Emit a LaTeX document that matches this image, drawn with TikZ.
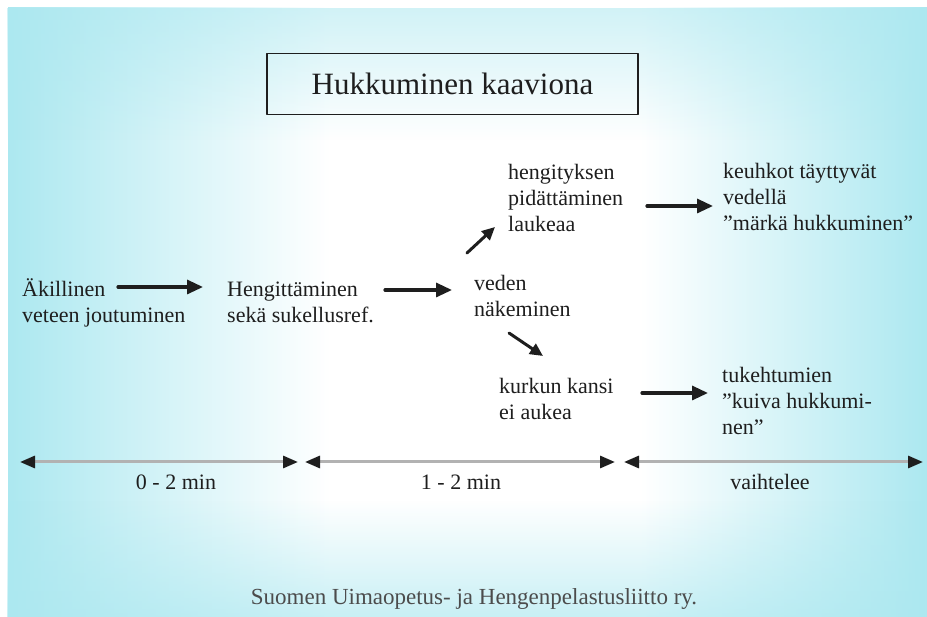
\documentclass[tikz,border=0pt]{standalone}
\usepackage{fontspec}
\setmainfont{Liberation Serif}
\usetikzlibrary{arrows.meta,fadings}

\definecolor{sea}{RGB}{172,232,240}
\definecolor{ink}{RGB}{30,30,30}
\tikzfading[name=seatop, top color=transparent!45, bottom color=transparent!100]
\tikzfading[name=seabot, top color=transparent!100, bottom color=transparent!35]

\begin{document}
\begin{tikzpicture}[x=1pt, y=-1pt, line cap=round, line join=round,
  txt/.style={anchor=base west, align=left, inner sep=0pt, text=ink,
    font=\fontsize{22}{26}\selectfont},
  flow/.style={-{Triangle[length=16pt,width=14pt]}, line width=3.2pt, ink},
  branch/.style={-{Triangle[length=13pt,width=12pt]}, line width=3pt, ink},
  span/.style={{Triangle[length=15pt,width=12pt,color=ink]}-{Triangle[length=15pt,width=12pt,color=ink]},
    line width=3pt, gray!60}]

  % background (scanned sheet)
  \useasboundingbox (0,0) rectangle (927,617);
  \fill[white] (0,0) rectangle (927,617);
  \shade[left color=sea, right color=white] (8,8) rectangle (330,617);
  \shade[left color=white, right color=sea] (640,8) rectangle (927,617);
  \fill[sea, path fading=seatop] (8,8) rectangle (927,140);
  \fill[sea, path fading=seabot] (8,500) rectangle (927,617);

  % title
  \node[draw=ink, line width=1.2pt, minimum width=371pt, minimum height=61pt,
    font=\fontsize{31}{36}\selectfont, text=ink] (title) at (452.5,84) {Hukkuminen kaaviona};

  % stages (base = last line)
  \node[txt] (akil)   at (22,323)  {Äkillinen\\veteen joutuminen};
  \node[txt] (heng)   at (227,323) {Hengittäminen\\sekä sukellusref.};
  \node[txt] (veden)  at (474,317) {veden\\näkeminen};
  \node[txt] (pidat)  at (508,232) {hengityksen\\pidättäminen\\laukeaa};
  \node[txt] (marka)  at (723,231) {keuhkot täyttyvät\\vedellä\\”märkä hukkuminen”};
  \node[txt] (kurkku) at (499,420) {kurkun kansi\\ei aukea};
  \node[txt] (kuiva)  at (722,435) {tukehtumien\\”kuiva hukkumi-\\nen”};

  % arrow ends
  \coordinate (f1a) at (118,287); \coordinate (f1b) at (203,287);
  \coordinate (f2a) at (385,290); \coordinate (f2b) at (452,290);
  \coordinate (upa) at (467,253); \coordinate (upb) at (495,227);
  \coordinate (dna) at (509,333); \coordinate (dnb) at (543,356);
  \coordinate (f3a) at (647,206); \coordinate (f3b) at (713,206);
  \coordinate (f4a) at (642,393); \coordinate (f4b) at (708,393);

  \draw[flow] (f1a) -- (f1b);
  \draw[flow] (f2a) -- (f2b);
  \draw[branch] (upa) -- (upb);
  \draw[branch] (dna) -- (dnb);
  \draw[flow] (f3a) -- (f3b);
  \draw[flow] (f4a) -- (f4b);

  % time line
  \coordinate (t0) at (20,462);  \coordinate (t1) at (298,462);
  \coordinate (t2) at (305,462); \coordinate (t3) at (615,462);
  \coordinate (t4) at (624,462); \coordinate (t5) at (923,462);
  \draw[span] (t0) -- (t1);
  \draw[span] (t2) -- (t3);
  \draw[span] (t4) -- (t5);

  \node[txt, anchor=base] (d1) at (176,490) {0 - 2 min};
  \node[txt, anchor=base] (d2) at (461,490) {1 - 2 min};
  \node[txt, anchor=base] (d3) at (770,490) {vaihtelee};

  % source
  \node[anchor=base, text=black!70, font=\fontsize{23}{27}\selectfont] (src) at (474,604)
    {Suomen Uimaopetus- ja Hengenpelastusliitto ry.};

\end{tikzpicture}
\end{document}
